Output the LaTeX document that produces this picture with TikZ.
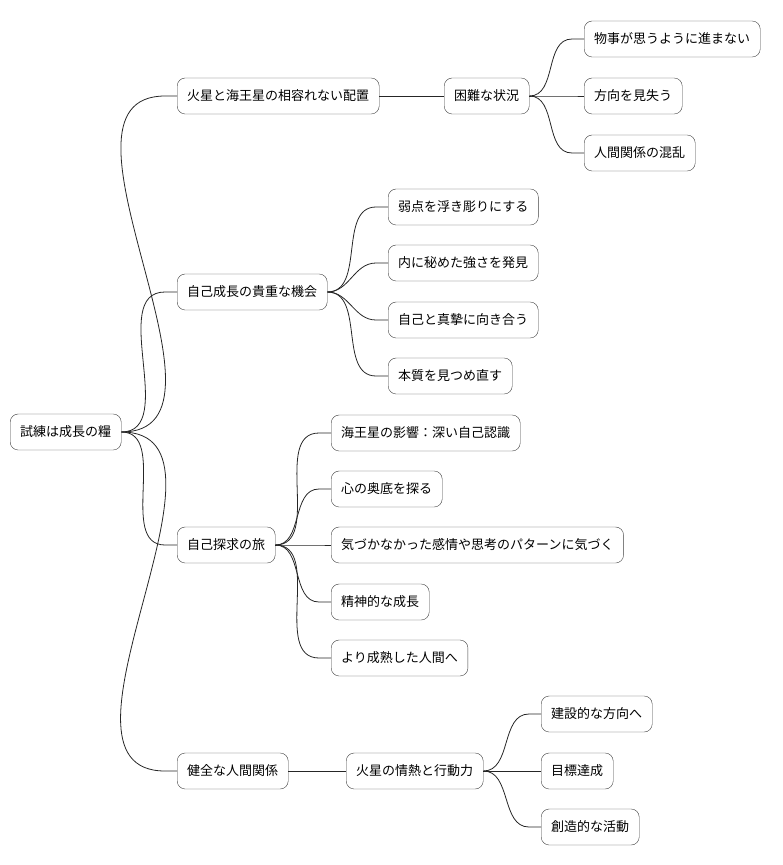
\documentclass[tikz,border=0pt]{standalone}
\usepackage{fontspec}
\setmainfont{Noto Sans CJK JP}
\usetikzlibrary{calc}
\begin{document}
\begin{tikzpicture}[x=1pt,y=-1pt,
  n/.style={draw=black!75,rounded corners=8pt,fill=white,minimum height=36pt,inner xsep=10pt,anchor=west,font=\fontsize{13}{15}\selectfont},
  e/.style={draw=black!85,line width=0.8pt}]
\useasboundingbox (0,0) rectangle (782,865);
\node[n] (r) at (10,432) {試練は成長の糧};
\node[n] (a) at (177,96) {火星と海王星の相容れない配置};
\node[n] (a1) at (444,96) {困難な状況};
\node[n] (a11) at (584,39) {物事が思うように進まない};
\node[n] (a12) at (584,96) {方向を見失う};
\node[n] (a13) at (584,153) {人間関係の混乱};
\node[n] (b) at (177,292) {自己成長の貴重な機会};
\node[n] (b1) at (388,207) {弱点を浮き彫りにする};
\node[n] (b2) at (388,263) {内に秘めた強さを発見};
\node[n] (b3) at (388,320) {自己と真摯に向き合う};
\node[n] (b4) at (388,376) {本質を見つめ直す};
\node[n] (c) at (177,545) {自己探求の旅};
\node[n] (c1) at (331,433) {海王星の影響：深い自己認識};
\node[n] (c2) at (331,489) {心の奥底を探る};
\node[n] (c3) at (331,545) {気づかなかった感情や思考のパターンに気づく};
\node[n] (c4) at (331,602) {精神的な成長};
\node[n] (c5) at (331,658) {より成熟した人間へ};
\node[n] (d) at (177,771) {健全な人間関係};
\node[n] (d1) at (346,771) {火星の情熱と行動力};
\node[n] (d11) at (541,714) {建設的な方向へ};
\node[n] (d12) at (541,771) {目標達成};
\node[n] (d13) at (541,827) {創造的な活動};
\foreach \p/\c in {r/a,r/b,r/c,r/d,a1/a11,a1/a12,a1/a13,b/b1,b/b2,b/b3,b/b4,c/c1,c/c2,c/c3,c/c4,c/c5,d1/d11,d1/d12,d1/d13}
  \draw[e] (\p.east) to[out=0,in=180] ($(\c.west)+(-12,0)$) -- (\c.west);
\draw[e] (a.east) -- (a1.west);
\draw[e] (d.east) -- (d1.west);
\end{tikzpicture}
\end{document}
